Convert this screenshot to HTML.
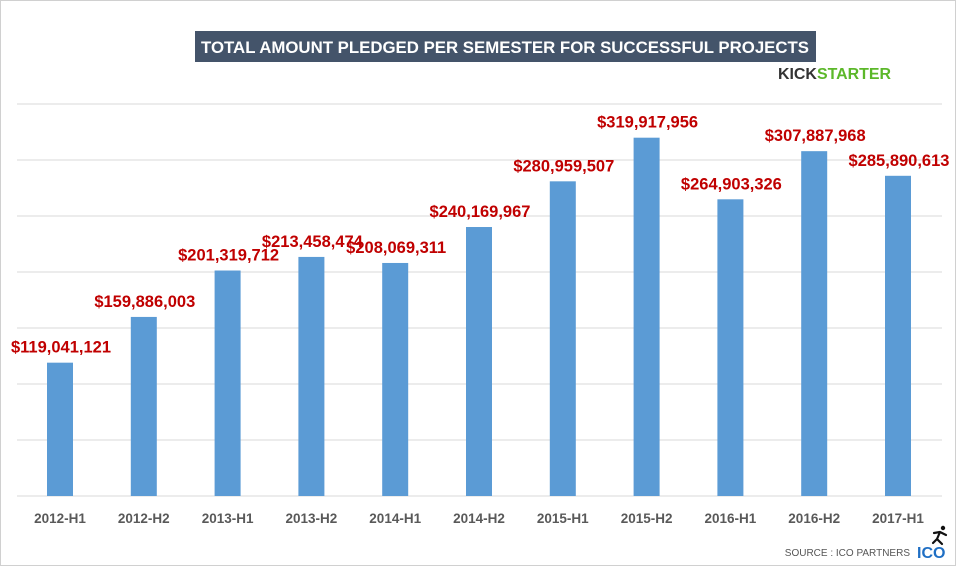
<!DOCTYPE html>
<html><head><meta charset="utf-8"><style>
html,body{margin:0;padding:0;background:#fff}
#wrap{position:relative;width:959px;height:567px;overflow:hidden;font-family:"Liberation Sans",sans-serif}
</style></head><body>
<div id="wrap">
<svg id="chart" width="959" height="567">
<rect x="0.5" y="0.5" width="955" height="565" fill="#fff" stroke="#d0d0d0"/>
<rect x="195" y="31" width="621" height="31" fill="#44546a"/>
<text x="505" y="53" text-anchor="middle" fill="#fff" font-size="17" font-weight="bold" font-family="Liberation Sans, sans-serif" textLength="608" lengthAdjust="spacingAndGlyphs">TOTAL AMOUNT PLEDGED PER SEMESTER FOR SUCCESSFUL PROJECTS</text>
<text x="778" y="79" font-size="16" font-weight="900" font-family="Liberation Sans, sans-serif" textLength="113" lengthAdjust="spacingAndGlyphs"><tspan fill="#333">KICK</tspan><tspan fill="#5cb82a">STARTER</tspan></text>
<g id="grid"></g>
<g id="bars"></g>
<g id="labels"></g>
<g id="xlabels"></g>
<text x="910" y="556" text-anchor="end" font-size="10" fill="#555">SOURCE : ICO PARTNERS</text>
<text x="917" y="558" font-size="16" font-weight="900" fill="#1f6fc4">ICO</text>
<g stroke="#111" stroke-width="2.2" fill="none" stroke-linecap="round">
<circle cx="943" cy="528" r="2.2" fill="#111" stroke="none"/>
<path d="M940 532 L937 539 M940 532 L934 533 M940 532 L946 535 M937 539 L942 544 M937 539 L933 543"/>
</g>
</svg>
</div>
<script>
const categories=["2012-H1","2012-H2","2013-H1","2013-H2","2014-H1","2014-H2","2015-H1","2015-H2","2016-H1","2016-H2","2017-H1"];
const values=[119041121,159886003,201319712,213458474,208069311,240169967,280959507,319917956,264903326,307887968,285890613];
const valueLabels=["$119,041,121","$159,886,003","$201,319,712","$213,458,474","$208,069,311","$240,169,967","$280,959,507","$319,917,956","$264,903,326","$307,887,968","$285,890,613"];
const gridTicks=[0,50e6,100e6,150e6,200e6,250e6,300e6,350e6];
const NS="http://www.w3.org/2000/svg";
const base=496, pxPerUnit=56/50e6;
function y(v){return base-v*pxPerUnit;}
function xc(i){return 60+i*83.8;}
const grid=document.getElementById('grid'),bars=document.getElementById('bars'),labels=document.getElementById('labels'),xl=document.getElementById('xlabels');
gridTicks.forEach((t,i)=>{
 const l=document.createElementNS(NS,'line');
 l.setAttribute('x1',17);l.setAttribute('x2',942);l.setAttribute('y1',y(t));l.setAttribute('y2',y(t));
 l.setAttribute('stroke','#d9d9d9');l.setAttribute('stroke-width',1);
 
 
 grid.appendChild(l);
});
categories.forEach((c,i)=>{
 const r=document.createElementNS(NS,'rect');
 r.setAttribute('x',xc(i)-13);r.setAttribute('width',26);
 r.setAttribute('y',y(values[i]));r.setAttribute('height',base-y(values[i]));
 r.setAttribute('fill','#5b9bd5');
 
 
 bars.appendChild(r);
 const t=document.createElementNS(NS,'text');
 t.setAttribute('x',xc(i)+1);t.setAttribute('y',y(values[i])-10);
 t.setAttribute('text-anchor','middle');t.setAttribute('font-size','16.5');t.setAttribute('font-weight','bold');t.setAttribute('fill','#c00000');
 t.textContent=valueLabels[i];
 
 
 labels.appendChild(t);
 const x=document.createElementNS(NS,'text');
 x.setAttribute('x',xc(i));x.setAttribute('y',523);
 x.setAttribute('text-anchor','middle');x.setAttribute('font-size','13.5');x.setAttribute('font-weight','bold');x.setAttribute('fill','#595959');
 x.textContent=c;
 
 
 xl.appendChild(x);
});
</script>
</body></html>
